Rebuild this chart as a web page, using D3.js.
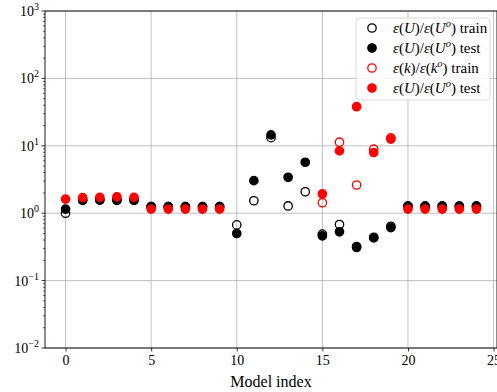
<!DOCTYPE html>
<html><head><meta charset="utf-8">
<script src="https://cdn.jsdelivr.net/npm/d3@7"></script>
<style>body{margin:0;background:#fff}svg{display:block}</style>
</head><body>
<svg id="c" width="497" height="392"></svg>
<script>
const modelIndex = d3.range(25);
const uTrain = [1.0,1.55,1.57,1.55,1.55, 1.25,1.25,1.25,1.25,1.25, 0.67,1.53,13.2,1.28,2.08, 0.49,0.68,0.32,0.44,0.64, 1.27,1.27,1.27,1.27,1.27];
const uTest  = [1.15,1.57,1.58,1.57,1.57, 1.25,1.25,1.25,1.25,1.25, 0.50,3.04,14.5,3.41,5.7, 0.46,0.53,0.31,0.43,0.61, 1.27,1.27,1.27,1.27,1.27];
const kTrain = [null,null,null,null,null, null,null,null,null,null, null,null,null,null,null, 1.43,11.3,2.62,8.9,13.1, null,null,null,null,null];
const uTestRed = [1.62,1.70,1.72,1.75,1.72, 1.15,1.15,1.15,1.15,1.15, null,null,null,null,null, 1.93,8.4,38,7.95,12.6, 1.15,1.15,1.15,1.15,1.15];
const xTicks = [0,5,10,15,20,25];
const yTicks = [-2,-1,0,1,2,3];
const xLabel = "Model index";

const svg = d3.select("#c");
const L=45, R=497, T=11, B=348;
const x = d3.scaleLinear().domain([-1.2,25.2]).range([L,R]);
const y = d3.scaleLog().domain([1e-2,1e3]).range([B,T]);
const font = "'Liberation Serif','DejaVu Serif',serif";

// grid
const g = svg.append("g");
g.selectAll("line.gx").data(xTicks).join("line")
  .attr("x1",d=>x(d)).attr("x2",d=>x(d)).attr("y1",T).attr("y2",B)
  .attr("stroke","#b0b0b0").attr("stroke-width",0.8);
g.selectAll("line.gy").data(yTicks).join("line")
  .attr("x1",L).attr("x2",R).attr("y1",d=>y(Math.pow(10,d))).attr("y2",d=>y(Math.pow(10,d)))
  .attr("stroke","#b0b0b0").attr("stroke-width",0.8);

// points
const r = 4.2;
function series(vals, color, filled){
  svg.append("g").selectAll("circle").data(modelIndex.filter(i=>vals[i]!=null)).join("circle")
    .attr("cx",i=>x(i)).attr("cy",i=>y(vals[i])).attr("r",r)
    .attr("fill",filled?color:"none").attr("stroke",color).attr("stroke-width",1.3);
}
series(uTrain,"#000",false);
series(uTest,"#000",true);
series(kTrain,"#ff0000",false);
series(uTestRed,"#ff0000",true);

// axes
const ax = svg.append("g").attr("transform",`translate(0,${B})`)
  .call(d3.axisBottom(x).tickValues(xTicks).tickSize(3.5).tickPadding(4).tickFormat(d3.format("d")));
ax.select(".domain").remove();
ax.selectAll("text").attr("font-family",font).attr("font-size",14).attr("fill","#000");
ax.selectAll("line").attr("stroke","#000").attr("stroke-width",0.8);

// y ticks
const ay = svg.append("g");
const minor=[];
for(let e=-2;e<3;e++) for(let m=2;m<10;m++) minor.push(m*Math.pow(10,e));
ay.selectAll("line.mn").data(minor).join("line")
  .attr("x1",L-2).attr("x2",L).attr("y1",d=>y(d)).attr("y2",d=>y(d))
  .attr("stroke","#000").attr("stroke-width",0.6);
ay.selectAll("line.mj").data(yTicks).join("line")
  .attr("x1",L-3.5).attr("x2",L).attr("y1",d=>y(Math.pow(10,d))).attr("y2",d=>y(Math.pow(10,d)))
  .attr("stroke","#000").attr("stroke-width",0.8);
const yt = ay.selectAll("text").data(yTicks).join("text")
  .attr("x",L-6).attr("y",d=>y(Math.pow(10,d))+5)
  .attr("text-anchor","end").attr("font-family",font).attr("font-size",14);
yt.append("tspan").text("10");
yt.append("tspan").attr("dy",-6).attr("font-size",10).text(d=>d<0?"\u2212"+(-d):String(d));

// spines
svg.append("rect").attr("x",L).attr("y",T).attr("width",R-L).attr("height",B-T)
  .attr("fill","none").attr("stroke","#000").attr("stroke-width",0.9);

// x label
svg.append("text").attr("x",(L+R)/2).attr("y",387).attr("text-anchor","middle")
  .attr("font-family",font).attr("font-size",16).text(xLabel);

// legend
const leg = svg.append("g");
leg.append("rect").attr("x",356).attr("y",18).attr("width",134).attr("height",82).attr("rx",3)
  .attr("fill","#fff").attr("fill-opacity",0.8).attr("stroke","#d0d0d0").attr("stroke-width",0.8);
const entries = [
  {c:"#000",f:false,a:"U",b:"U",s:"train"},
  {c:"#000",f:true,a:"U",b:"U",s:"test"},
  {c:"#ff0000",f:false,a:"k",b:"k",s:"train"},
  {c:"#ff0000",f:true,a:"U",b:"U",s:"test"}
];
entries.forEach((e,i)=>{
  const yy = 28+i*20;
  leg.append("circle").attr("cx",372).attr("cy",yy).attr("r",r)
    .attr("fill",e.f?e.c:"none").attr("stroke",e.c).attr("stroke-width",1.3);
  const t = leg.append("text").attr("x",393).attr("y",yy+5).attr("font-family",font).attr("font-size",15);
  t.append("tspan").attr("font-style","italic").text("\u03b5");
  t.append("tspan").text("(");
  t.append("tspan").attr("font-style","italic").text(e.a);
  t.append("tspan").text(")/");
  t.append("tspan").attr("font-style","italic").text("\u03b5");
  t.append("tspan").text("(");
  t.append("tspan").attr("font-style","italic").text(e.b);
  t.append("tspan").attr("font-style","italic").attr("font-size",10.5).attr("dy",-6).text("o");
  t.append("tspan").attr("dy",6).text(") "+e.s);
});
</script>
</body></html>
